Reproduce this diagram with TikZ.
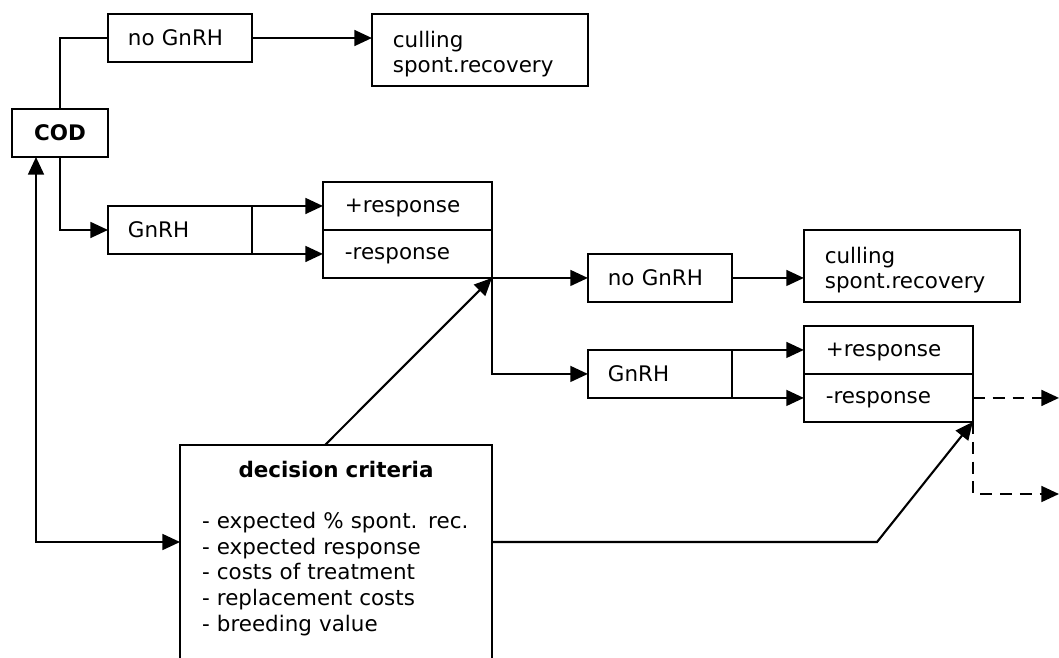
\documentclass[tikz,border=0pt]{standalone}
\usepackage{fontspec}
\setmainfont{DejaVu Sans}
\usetikzlibrary{positioning, arrows.meta}
\tikzset{
	treat/.style={draw, rectangle, line width=1.2pt, outer sep=0pt, minimum height=0.96cm, inner xsep=0.4cm, text width=2.08cm, text depth=0pt, align=left},
	outcome/.style={draw, rectangle, line width=1.2pt, outer sep=0pt, minimum height=1.44cm, inner xsep=0.42cm, text width=3.48cm, text depth=12.5pt, align=left},
	resp/.style={draw, rectangle, line width=1.2pt, outer sep=0pt, minimum height=0.96cm, inner xsep=0.44cm, text width=2.5cm, text depth=0pt, align=left},
	codbox/.style={draw, rectangle, line width=1.2pt, outer sep=0pt, minimum width=1.92cm, minimum height=0.96cm},
	% box is open at the bottom, it runs past the page edge
	critbox/.style={draw, rectangle, line width=1.2pt, outer sep=0pt, inner xsep=0.44cm, inner ysep=9pt, text width=5.36cm, align=left, anchor=north},
}

\begin{document}
\begin{tikzpicture}[x=0.02cm, y=-0.02cm, font=\fontsize{12.2}{14.6}\selectfont]
	\clip (0,0) rectangle (1059,657);

	% first step
	\node (cod) [codbox] at (60,133) {\textbf{COD}};
	\node (nogn1) [treat, anchor=west] at (108,38) {no GnRH};
	\node (cull1) [outcome, right=2.4cm of nogn1.north east, anchor=north west] {culling\\spont.recovery};
	\node (gnrh1) [treat, below=2.88cm of nogn1] {GnRH};
	\node (plus1) [resp, right=1.42cm of gnrh1.north east] {+response};
	\node (minus1) [resp, below=0pt of plus1] {-response};

	% second step
	\node (nogn2) [treat, right=1.92cm of minus1.south east] {no GnRH};
	\node (gnrh2) [treat, below=0.96cm of nogn2] {GnRH};
	\node (cull2) [outcome, right=1.44cm of nogn2.south east, anchor=south west] {culling\\spont.recovery};
	\node (plus2) [resp, right=1.44cm of gnrh2.north east] {+response};
	\node (minus2) [resp, below=0pt of plus2] {-response};

	\node (crit) [critbox] at (336,445) {{\centering\textbf{decision criteria}\par}
		\vspace{\baselineskip}
		- expected \% spont. rec.\\
		- expected response\\
		- costs of treatment\\
		- replacement costs\\
		- breeding value\\
		\mbox{}};

	\coordinate (rim) at (1059,0);
	\coordinate (lowout) at (1059,494);
	\coordinate (bend) at (877,542);
	\coordinate (loop) at (36,542);

	\begin{scope}[line width=1.2pt, black, ->, >={Triangle[length=10pt, width=9pt]}]
		\draw[-] (cod) |- (nogn1);
		\draw (nogn1.east) -- (nogn1.east -| cull1.west);
		\draw (cod) |- (gnrh1);
		\draw (gnrh1.north east) -- (plus1.west);
		\draw (gnrh1.south east) -- (minus1.west);
		\draw (minus1.south east) -- (nogn2);
		\draw (minus1.south east) |- (gnrh2);
		\draw (nogn2) -- (nogn2 -| cull2.west);
		\draw (gnrh2.north east) -- (plus2.west);
		\draw (gnrh2.south east) -- (minus2.west);
		\draw[dash pattern=on 6.8pt off 4.5pt] (minus2.east) -- (minus2.east -| rim);
		\draw[dash pattern=on 6.8pt off 4.5pt] (minus2.south east) |- (lowout);
		\draw ([xshift=-0.22cm]crit.north) -- (minus1.south east);
		\draw (crit.east |- bend) -- (bend) -- (minus2.south east);
		\draw[<->] (cod.south -| loop) -- (loop) -- (crit.west |- loop);
	\end{scope}
\end{tikzpicture}
\end{document}
